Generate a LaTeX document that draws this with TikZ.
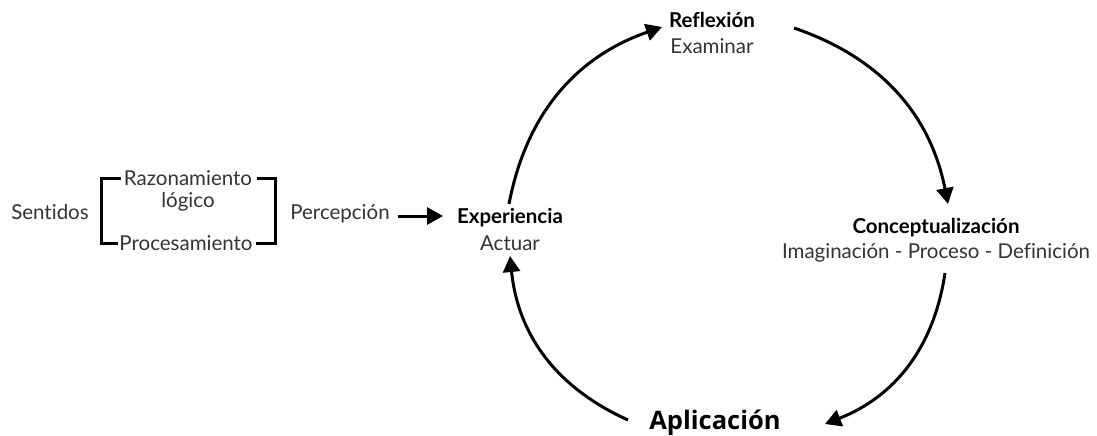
\documentclass[tikz,border=0pt]{standalone}
\usepackage{fontspec}
\setmainfont{Lato}[Ligatures={NoCommon,NoRare,NoDiscretionary}]
\newfontfamily\appfont{Open Sans}
\usetikzlibrary{arrows.meta}
\definecolor{txt}{HTML}{333333}
\begin{document}
\begin{tikzpicture}[x=1pt,y=-1pt,
  lbl/.style={text=txt,font=\fontsize{20.5}{22}\selectfont,inner sep=0pt,anchor=base},
  head/.style={text=black,font=\fontsize{20.5}{22}\selectfont\bfseries,inner sep=0pt,anchor=base},
  cyc/.style={line width=3pt,-{Triangle[length=16pt,width=17pt]}},
  brk/.style={line width=3pt}]
\useasboundingbox (0,0) rectangle (1097,436);

% left block: senses, bracket, perception
\node[lbl] (sent) at (50,219) {Sentidos};
\node[lbl] (razo) at (188,185) {Razonamiento};
\node[lbl] (logi) at (188,207) {lógico};
\node[lbl] (proc) at (186,250) {Procesamiento};
\node[lbl] (perc) at (340,219) {Percepción};
\draw[brk] (121,178) -- (101,178) -- (101,243) -- (118,243);
\draw[brk] (257,178) -- (275,178) -- (275,243) -- (256,243);

% cycle stages
\node[head] (exp) at (510,223) {Experiencia};
\node[lbl] (act) at (510,250) {Actuar};
\node[head] (ref) at (712,28) {Reflexión};
\node[lbl] (exa) at (712,54) {Examinar};
\node[head] (con) at (936,233) {Conceptualización};
\node[lbl] (ipd) at (936,258) {Imaginación - Proceso - Definición};
\node[text=black,font=\appfont\fontsize{25.5}{28}\selectfont\bfseries,inner sep=0pt,anchor=base] (apl) at (715,429) {Aplicación};

% arc end points
\coordinate (e1) at (509,204);
\coordinate (r0) at (662,27);
\coordinate (r1) at (794,28);
\coordinate (c0) at (948,204);
\coordinate (c1) at (945,273);
\coordinate (a0) at (825,424);
\coordinate (a1) at (628,420);
\coordinate (e0) at (510,256);

% perception arrow
\coordinate (p1) at (398,216);
\coordinate (p2) at (443,216);
\draw[cyc] (p1) -- (p2);

\draw[cyc] (e1) to[bend left=30] (r0);
\draw[cyc] (r1) to[bend left=30] (c0);
\draw[cyc] (c1) to[bend left=30] (a0);
\draw[cyc] (a1) to[bend left=30] (e0);
\end{tikzpicture}
\end{document}
